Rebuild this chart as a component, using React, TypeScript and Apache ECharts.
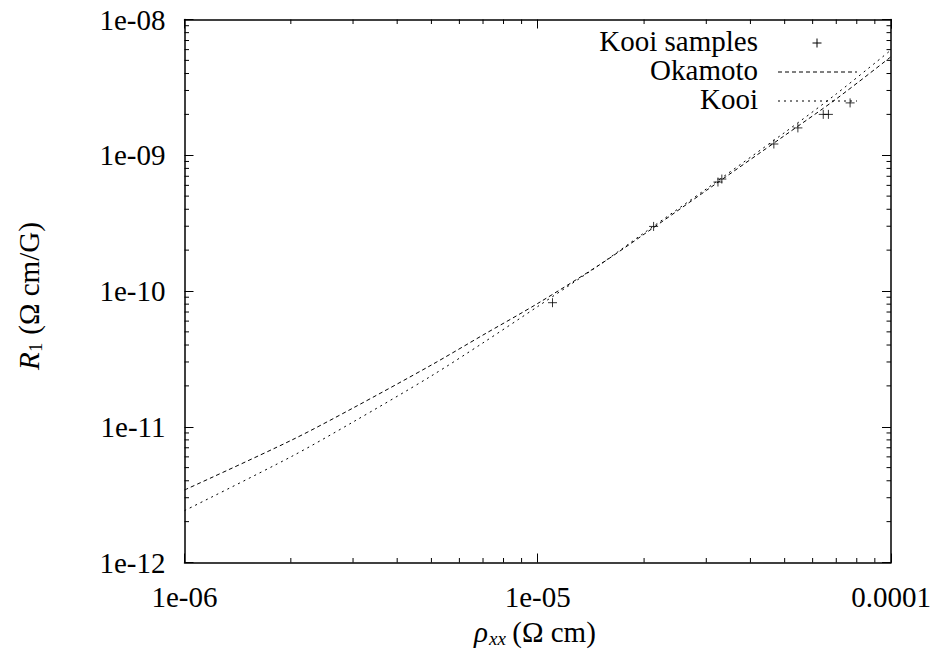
import React, { useEffect, useRef } from "react";
import * as echarts from "echarts";

// Curve grid (rho_xx, Ohm cm) and model curves R1 (Ohm cm / G)
const rhoGrid = [1e-6, 2e-6, 3e-6, 5e-6, 7e-6, 1e-5, 1.5e-5, 2e-5, 3e-5, 5e-5, 7e-5, 1e-4];
const okamotoR1 = [3.42e-12, 7.92e-12, 1.374e-11, 2.85e-11, 4.74e-11, 8.1e-11, 1.567e-10, 2.62e-10, 5.5e-10, 1.398e-9, 2.6e-9, 5.32e-9];
const kooiR1 = [2.41e-12, 6.0e-12, 1.084e-11, 2.37e-11, 4.15e-11, 7.69e-11, 1.567e-10, 2.68e-10, 5.65e-10, 1.471e-9, 2.83e-9, 5.96e-9];

// Kooi samples
const sampleRho = [1.101e-5, 2.128e-5, 3.237e-5, 3.32e-5, 4.66e-5, 5.45e-5, 6.43e-5, 6.65e-5, 7.66e-5];
const sampleR1 = [8.2e-11, 2.99e-10, 6.35e-10, 6.68e-10, 1.21e-9, 1.59e-9, 2.0e-9, 2.0e-9, 2.43e-9];

// Axis ticks
const xTickValues = [1e-6, 1e-5, 1e-4];
const xTickLabels = ["1e-06", "1e-05", "0.0001"];
const yTickValues = [1e-12, 1e-11, 1e-10, 1e-9, 1e-8];
const yTickLabels = ["1e-12", "1e-11", "1e-10", "1e-09", "1e-08"];
const xMinorTicks = [2e-6, 3e-6, 4e-6, 5e-6, 6e-6, 7e-6, 8e-6, 9e-6, 2e-5, 3e-5, 4e-5, 5e-5, 6e-5, 7e-5, 8e-5, 9e-5];
const yMinorTicks = [
  2e-12, 3e-12, 4e-12, 5e-12, 6e-12, 7e-12, 8e-12, 9e-12,
  2e-11, 3e-11, 4e-11, 5e-11, 6e-11, 7e-11, 8e-11, 9e-11,
  2e-10, 3e-10, 4e-10, 5e-10, 6e-10, 7e-10, 8e-10, 9e-10,
  2e-9, 3e-9, 4e-9, 5e-9, 6e-9, 7e-9, 8e-9, 9e-9,
];

const seriesNames = ["Kooi samples", "Okamoto", "Kooi"];

const FONT = "Liberation Serif";
const FS = 29;
const SUB = 19;
const MAJOR = 9;
const MINOR = 4.5;

function labelFor(values: number[], labels: string[]) {
  return (v: number) => {
    const e = Math.round(Math.log10(v));
    const i = values.findIndex((t) => Math.round(Math.log10(t)) === e);
    return i >= 0 ? labels[i] : "";
  };
}

function txt(text: string, x: number, y: number, size: number, opts: any = {}) {
  return {
    type: "text",
    x,
    y,
    style: {
      text,
      fontFamily: FONT,
      fontSize: size,
      fontStyle: opts.italic ? "italic" : "normal",
      align: opts.align || "left",
      verticalAlign: "middle",
    },
  };
}

export default function App() {
  const ref = useRef<HTMLDivElement>(null);

  useEffect(() => {
    if (!ref.current) return;
    const chart = echarts.init(ref.current, null, { renderer: "svg" });

    const axisLine = { show: true, lineStyle: { color: "#000", width: 1.5 } };
    const majorTick = { show: true, inside: true, length: MAJOR, lineStyle: { color: "#000", width: 1 } };

    const xBase = { type: "log", logBase: 10, min: 1e-6, max: 1e-4, splitLine: { show: false }, axisLine, axisTick: majorTick };
    const yBase = { type: "log", logBase: 10, min: 1e-12, max: 1e-8, splitLine: { show: false }, axisLine, axisTick: majorTick };

    const lineSeries = (name: string, ys: number[], dash: number[]) => ({
      name,
      type: "line",
      data: rhoGrid.map((x, i) => [x, ys[i]]),
      smooth: 0.3,
      showSymbol: false,
      symbol: "none",
      clip: true,
      lineStyle: { color: "#000", width: 1, type: dash },
      z: 3,
    });

    chart.setOption({
      animation: false,
      grid: { left: 184.5, right: 50, top: 19.5, bottom: 92.5, containLabel: false },
      xAxis: [
        {
          ...xBase,
          position: "bottom",
          axisLabel: { color: "#000", fontFamily: FONT, fontSize: FS, margin: 20, formatter: labelFor(xTickValues, xTickLabels) },
        },
        { ...xBase, position: "top", axisLabel: { show: false } },
      ],
      yAxis: [
        {
          ...yBase,
          position: "left",
          axisLabel: { color: "#000", fontFamily: FONT, fontSize: FS, margin: 19, formatter: labelFor(yTickValues, yTickLabels) },
        },
        { ...yBase, position: "right", axisLabel: { show: false } },
      ],
      series: [
        {
          name: seriesNames[0],
          type: "scatter",
          data: sampleRho.map((x, i) => [x, sampleR1[i]]),
          symbol: "path://M0,5L10,5M5,0L5,10",
          symbolSize: 9,
          itemStyle: { color: "rgba(0,0,0,0)", borderColor: "#000", borderWidth: 1 },
          z: 4,
        },
        lineSeries(seriesNames[1], okamotoR1, [4, 3]),
        lineSeries(seriesNames[2], kooiR1, [2, 4]),
        {
          type: "custom",
          silent: true,
          data: xMinorTicks.map((v) => [v, 1e-10]),
          renderItem: (params: any, api: any) => {
            const cs = params.coordSys;
            const x = api.coord([api.value(0), api.value(1)])[0];
            const yb = cs.y + cs.height;
            const yt = cs.y;
            return {
              type: "group",
              children: [
                { type: "line", shape: { x1: x, y1: yb, x2: x, y2: yb - MINOR }, style: { stroke: "#000", lineWidth: 1 } },
                { type: "line", shape: { x1: x, y1: yt, x2: x, y2: yt + MINOR }, style: { stroke: "#000", lineWidth: 1 } },
              ],
            };
          },
          z: 5,
        },
        {
          type: "custom",
          silent: true,
          data: yMinorTicks.map((v) => [1e-5, v]),
          renderItem: (params: any, api: any) => {
            const cs = params.coordSys;
            const y = api.coord([api.value(0), api.value(1)])[1];
            const xl = cs.x;
            const xr = cs.x + cs.width;
            return {
              type: "group",
              children: [
                { type: "line", shape: { x1: xl, y1: y, x2: xl + MINOR, y2: y }, style: { stroke: "#000", lineWidth: 1 } },
                { type: "line", shape: { x1: xr, y1: y, x2: xr - MINOR, y2: y }, style: { stroke: "#000", lineWidth: 1 } },
              ],
            };
          },
          z: 5,
        },
      ],
      graphic: [
        // y axis title, rotated to read bottom to top
        {
          type: "group",
          x: 29,
          y: 292,
          rotation: Math.PI / 2,
          children: [
            txt("R", -78, 0, FS, { italic: true }),
            txt("1", -60, 6, SUB),
            txt(" (Ω cm/G)", -50, 0, FS),
          ],
        },
        // x axis title
        txt("ρ", 474, 632, FS, { italic: true }),
        txt("xx", 489, 638, SUB, { italic: true }),
        txt(" (Ω cm)", 505, 632, FS),
        // Key
        txt(seriesNames[0], 758, 41, FS, { align: "right" }),
        { type: "line", shape: { x1: 812.5, y1: 43, x2: 821.5, y2: 43 }, style: { stroke: "#000", lineWidth: 1 } },
        { type: "line", shape: { x1: 817, y1: 38.5, x2: 817, y2: 47.5 }, style: { stroke: "#000", lineWidth: 1 } },
        txt(seriesNames[1], 758, 70, FS, { align: "right" }),
        { type: "line", shape: { x1: 778, y1: 72, x2: 857, y2: 72 }, style: { stroke: "#000", lineWidth: 1, lineDash: [4, 3] } },
        txt(seriesNames[2], 758, 99, FS, { align: "right" }),
        { type: "line", shape: { x1: 778, y1: 101, x2: 857, y2: 101 }, style: { stroke: "#000", lineWidth: 1, lineDash: [2, 4] } },
      ],
    });

    return () => chart.dispose();
  }, []);

  return <div ref={ref} style={{ position: "absolute", left: 0, top: 0, width: 941, height: 655 }} />;
}
